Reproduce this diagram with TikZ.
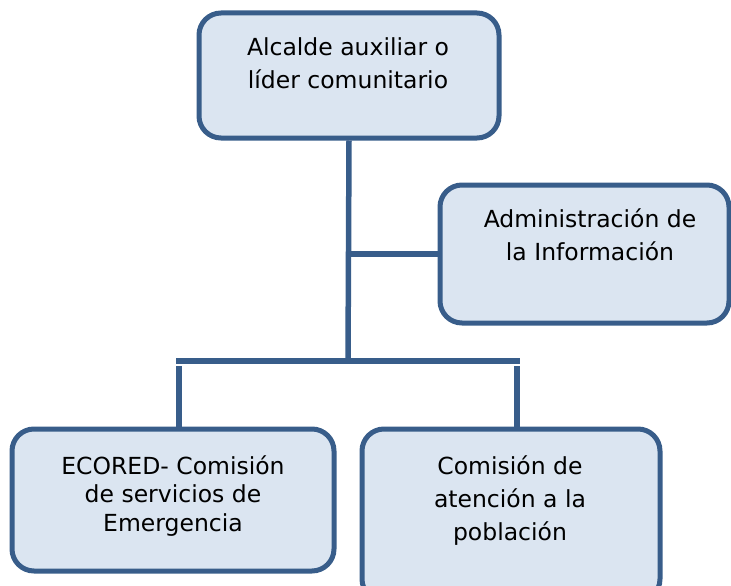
\documentclass[tikz,border=0pt]{standalone}
\usepackage{fontspec}
\setmainfont{DejaVu Sans}
\definecolor{boxfill}{HTML}{DBE5F1}
\definecolor{boxline}{HTML}{385D8A}
\begin{document}
\begin{tikzpicture}[x=1pt,y=-1pt,
  box/.style={draw=boxline, fill=boxfill, line width=5pt, rounded corners=22pt, inner sep=0pt},
  lbl/.style={anchor=north, align=center, inner sep=0pt, text=black,
    font=\fontsize{23.5}{33}\selectfont},
  lblb/.style={lbl, font=\fontsize{23.5}{28.5}\selectfont},
  conn/.style={draw=boxline, line width=5.5pt}]
\useasboundingbox (0,0) rectangle (731,586);
% boxes
\node[box, minimum width=300pt, minimum height=125pt] (top) at (349,75.5) {};
\node[box, minimum width=289pt, minimum height=138pt] (info) at (584.5,254) {};
\node[box, minimum width=322pt, minimum height=142pt] (eco) at (173,500) {};
\node[box, minimum width=298pt, minimum height=172pt] (pob) at (511,515) {};
% labels
\node[lbl] (topT) at (348,37) {\rule{0pt}{18pt}Alcalde auxiliar o\\líder comunitario};
\node[lbl] (infoT) at (590,209) {\rule{0pt}{18pt}Administración de\\la Información};
\node[lblb] (ecoT) at (173,455) {\rule{0pt}{18pt}ECORED- Comisión\\de servicios de\\Emergencia};
\node[lbl] (pobT) at (510,455) {\rule{0pt}{18pt}Comisión de\\atención a la\\población};
% connectors
\coordinate (bar) at (348,361);
\coordinate (barL) at (176,361);
\coordinate (barR) at (520,361);
\coordinate (dropL) at (179,366);
\coordinate (dropR) at (517,366);
\draw[conn] (top.south) -- (bar);
\draw[conn] (info.west) -- (info.west -| top.south);
\draw[conn] (barL) -- (barR);
\draw[conn] (dropL) -- (dropL |- eco.north);
\draw[conn] (dropR) -- (dropR |- pob.north);
\end{tikzpicture}
\end{document}
